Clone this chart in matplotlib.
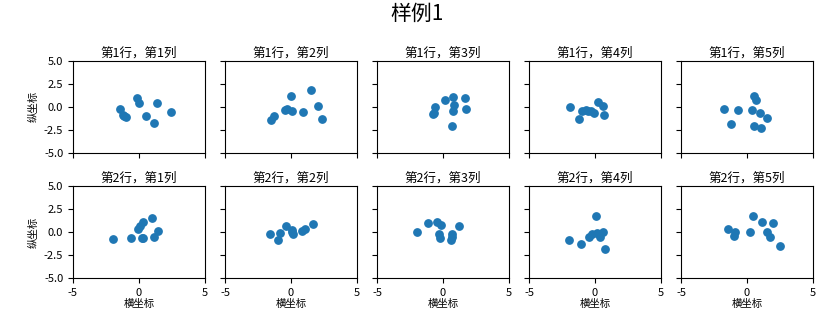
import matplotlib
matplotlib.use("Agg")
import matplotlib.pyplot as plt

plt.rcParams['font.family'] = ['Noto Sans CJK SC', 'DejaVu Sans']
plt.rcParams['axes.unicode_minus'] = False

suptitle = "样例1"
xlabel = "横坐标"
ylabel = "纵坐标"
xticks = [-5, 0, 5]
yticks = [-5.0, -2.5, 0.0, 2.5, 5.0]

# row 1
x11 = [-1.46, -1.2, -0.95, -0.14, 0.01, 0.52, 1.13, 1.38, 2.42, -1.1]
y11 = [-0.2, -0.86, -1.15, 0.97, 0.38, -1.04, -1.78, 0.42, -0.57, -1.0]
x12 = [-1.48, -1.28, -0.47, -0.27, 0.09, -0.01, 0.9, 1.53, 2.04, 2.37]
y12 = [-1.45, -1.04, -0.31, -0.27, -0.46, 1.23, -0.57, 1.81, 0.05, -1.3]
x13 = [-0.72, -0.59, 0.14, 0.77, 0.85, 0.77, 0.7, 1.63, 1.73, -0.76]
y13 = [-0.68, -0.02, 0.79, 1.12, 0.24, -0.42, -2.03, 0.97, -0.2, -0.8]
x14 = [-1.89, -1.2, -0.95, -0.65, -0.32, -0.06, 0.19, 0.57, 0.65, -0.5]
y14 = [-0.02, -1.3, -0.49, -0.31, -0.49, -0.71, 0.49, 0.05, -0.93, -0.4]
x15 = [-1.71, -1.18, -0.67, 0.37, 0.52, 0.65, 0.97, 1.48, 0.54, 1.08]
y15 = [-0.2, -1.89, -0.31, -0.31, 1.23, 0.75, -0.68, -1.19, -2.03, -2.33]
# row 2
x21 = [-1.96, -0.62, -0.11, 0.11, 0.27, 0.32, 0.97, 1.15, 1.48, 0.2]
y21 = [-0.75, -0.64, 0.35, 0.64, 1.11, -0.64, 1.47, -0.53, 0.13, -0.6]
x22 = [-1.56, -0.97, -0.8, -0.34, 0.04, 0.16, 0.85, 1.05, 1.68, 0.1]
y22 = [-0.24, -0.89, -0.09, 0.67, 0.2, -0.2, 0.13, 0.35, 0.89, -0.05]
x23 = [-1.99, -1.13, -0.42, -0.14, -0.32, -0.24, 0.59, 0.7, 1.23, 0.65]
y23 = [0.02, 1.0, 1.04, 0.75, -0.24, -0.64, -0.82, -0.24, 0.64, -0.56]
x24 = [-1.96, -1.1, -0.44, -0.22, 0.04, 0.14, 0.39, 0.57, 0.72, 0.29]
y24 = [-0.85, -1.33, -0.49, -0.27, 1.73, -0.13, -0.56, 0.05, -1.84, -0.2]
x25 = [-1.43, -0.9, -0.97, 0.19, 0.47, 1.15, 1.94, 1.48, 1.73, 2.47]
y25 = [0.38, 0.02, -0.38, 0.02, 1.73, 1.11, 1.0, -0.02, -0.49, -1.47]

xs = [[x11, x12, x13, x14, x15], [x21, x22, x23, x24, x25]]
ys = [[y11, y12, y13, y14, y15], [y21, y22, y23, y24, y25]]

fig, axes = plt.subplots(2, 5, sharex=True, sharey=True, figsize=(8.35, 3.17), dpi=100)
fig.subplots_adjust(left=0.0874, right=0.9737, top=0.808, bottom=0.123, wspace=0.152, hspace=0.36)
fig.suptitle(suptitle, fontsize=15, y=0.99)

for i in range(2):
    for j in range(5):
        ax = axes[i, j]
        ax.scatter(xs[i][j], ys[i][j], s=28, color='#1f77b4')
        ax.set_title(f"第{i+1}行，第{j+1}列", fontsize=9, pad=3)
        ax.set_xlim(-5, 5)
        ax.set_ylim(-5, 5)
        ax.set_xticks(xticks)
        ax.set_yticks(yticks)
        ax.tick_params(labelsize=8, length=3.5)
        if j == 0:
            ax.set_ylabel(ylabel, fontsize=7.5)
        if i == 1:
            ax.set_xlabel(xlabel, fontsize=7.5, labelpad=1)

fig.savefig("out.png", dpi=100)
